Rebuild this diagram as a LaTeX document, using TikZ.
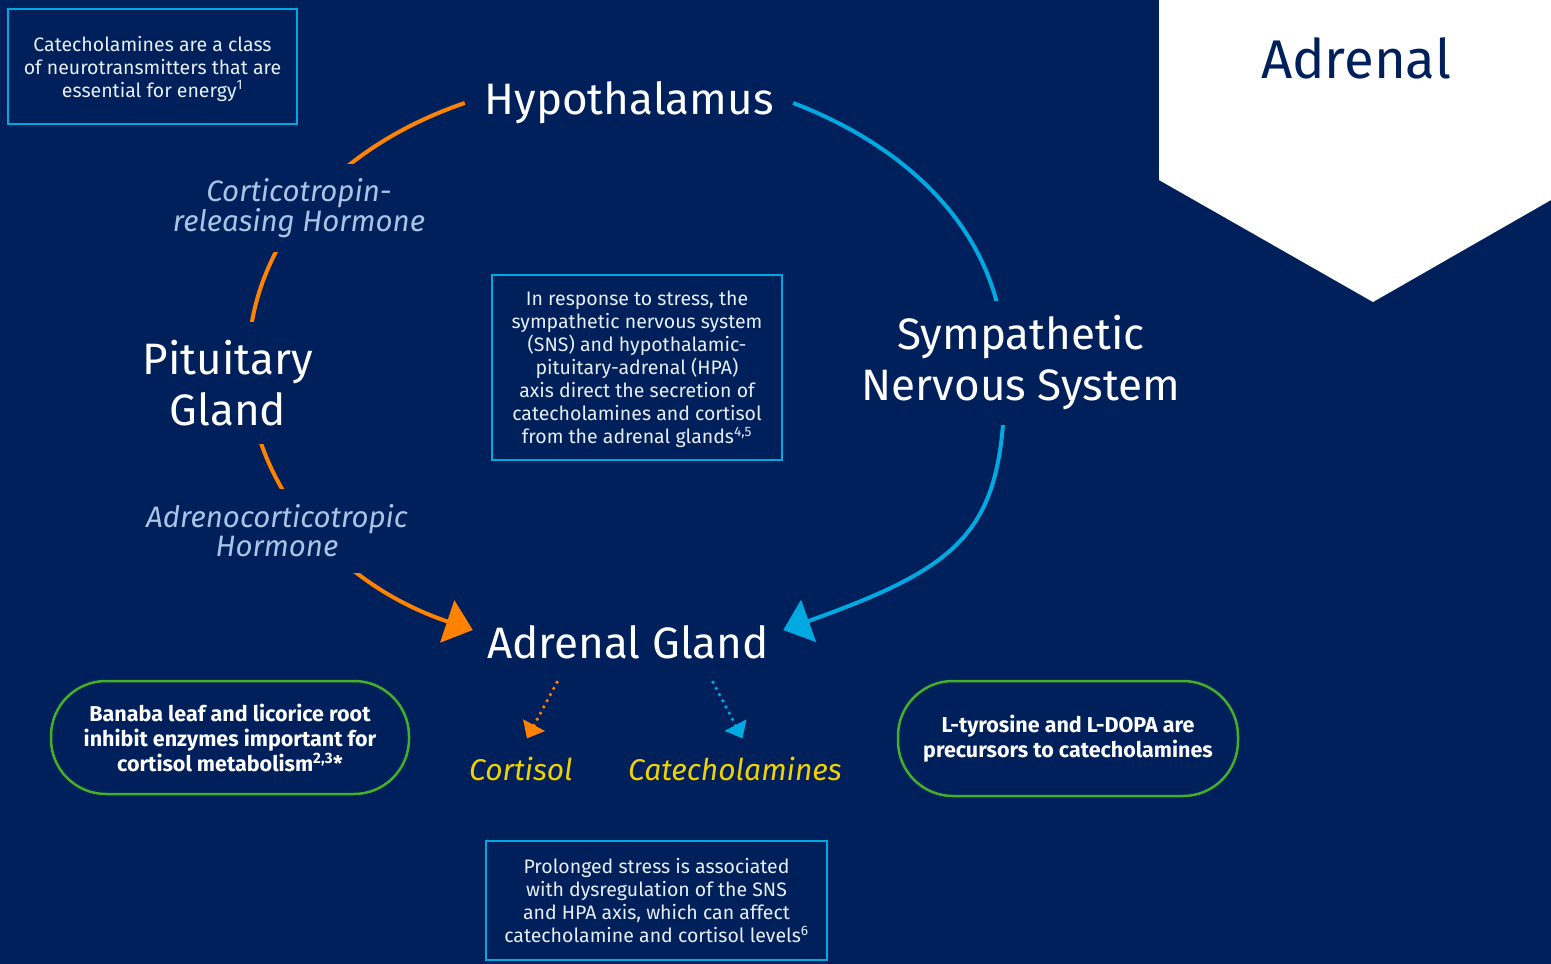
\documentclass[tikz,border=0pt]{standalone}
\usepackage{fontspec}
\setmainfont{Fira Sans}
\usetikzlibrary{arrows.meta,positioning}
\pgfdeclarelayer{background}
\pgfsetlayers{background,main}
\definecolor{navy}{RGB}{0,32,91}
\definecolor{skyline}{RGB}{0,169,224}
\definecolor{amber}{RGB}{255,130,0}
\definecolor{leafgreen}{RGB}{68,176,42}
\definecolor{gold}{RGB}{240,210,0}
\definecolor{paleblue}{RGB}{170,196,230}
\definecolor{softwhite}{RGB}{232,238,246}

\begin{document}
\begin{tikzpicture}[x=1pt, y=1pt, line cap=round,
    organ/.style={text=white, font=\fontsize{44}{51}\selectfont, align=center, inner sep=0pt},
    hormone/.style={text=paleblue, font=\itshape\fontsize{29.5}{29}\selectfont, align=center, fill=navy, inner sep=0pt},
    product/.style={text=gold, font=\itshape\fontsize{30}{30}\selectfont, inner sep=0pt},
    infobox/.style={draw=skyline, line width=2.5pt, text=softwhite, font=\fontsize{19.5}{23}\selectfont, align=center, inner sep=0pt,
      text depth=0pt},
    herbbox/.style={draw=leafgreen, line width=2.5pt, rounded corners=55pt, text=white, font=\bfseries\fontsize{21.5}{25}\selectfont, align=center, inner sep=0pt},
    hpa/.style={draw=amber, line width=4pt, -{Triangle[length=27pt,width=44pt]}},
    sympa/.style={draw=skyline, line width=4pt, -{Triangle[length=27pt,width=44pt]}},
    secretion/.style={line width=3.6pt, dash pattern=on 0pt off 7pt, -{Triangle[length=15pt,width=24pt]}}
  ]
  % Background and title tab
  \begin{pgfonlayer}{background}
    \fill[navy] (0,0) rectangle (1551,-964);
    \fill[white] (1159,0) -- (1551,0) -- (1551,-200) -- (1373,-302) -- (1159,-180) -- cycle;
  \end{pgfonlayer}
  \node[anchor=base, text=navy, font=\fontsize{54.5}{60}\selectfont] (title) at (1356,-78) {Adrenal};

  % Organs
  \node[organ, minimum width=328pt, minimum height=44pt] (hypo) at (629,-103) {Hypothalamus};
  \node[organ, fill=navy, minimum height=122pt] (pit) at (228,-383) {Pituitary\\Gland};
  \node[organ, fill=navy, minimum height=124pt] (sns) at (1021,-363) {Sympathetic\\Nervous System};
  \node[organ, minimum width=310pt, minimum height=40pt] (adr) at (628,-642) {Adrenal Gland};

  % Hormones and products
  \node[hormone, minimum height=88pt] (crh) at (299,-208) {Corticotropin-\\releasing Hormone};
  \node[hormone, minimum height=84pt] (acth) at (277,-531) {Adrenocorticotropic\\Hormone};
  \node[product, anchor=base] (cort) at (521,-780) {Cortisol};
  \node[product, anchor=base] (cat) at (735,-780) {Catecholamines};

  % Text boxes
  \node[infobox, minimum width=289pt, minimum height=115pt] (catbox) at (152.5,-66.5)
    {Catecholamines are a class\\of neurotransmitters that are\\essential for energy\textsuperscript{1}};
  \node[infobox, minimum width=290pt, minimum height=185pt] (stressbox) at (637,-367.5)
    {In response to stress, the\\sympathetic nervous system\\(SNS) and hypothalamic-\\pituitary-adrenal (HPA)\\axis direct the secretion of\\catecholamines and cortisol\\from the adrenal glands\textsuperscript{4,5}};
  \node[infobox, minimum width=341pt, minimum height=119pt] (longbox) at (656.5,-900.5)
    {Prolonged stress is associated\\with dysregulation of the SNS\\and HPA axis, which can affect\\catecholamine and cortisol levels\textsuperscript{6}};
  \node[herbbox, minimum width=358pt, minimum height=113pt] (banaba) at (230,-737.5)
    {Banaba leaf and licorice root\\inhibit enzymes important for\\cortisol metabolism\textsuperscript{2,3}*};
  \node[herbbox, minimum width=340pt, minimum height=115pt] (tyrosine) at (1068,-738.5)
    {L-tyrosine and L-DOPA are\\precursors to catecholamines};

  % HPA axis and sympathetic route, behind the labels
  \begin{pgfonlayer}{background}
    \draw[hpa] (hypo.west) .. controls +(-123,-42) and +(0,130) .. ([xshift=20pt,yshift=16pt]pit.center)
      .. controls +(0,-110) and +(-143,48) .. ([yshift=12pt]adr.west);
    \draw[sympa] (hypo.east) .. controls +(105,-40) and +(0,140) .. ([xshift=-16pt,yshift=-4pt]sns.center)
      .. controls +(0,-160) and +(188,67) .. ([yshift=12pt]adr.east);
  \end{pgfonlayer}

  % Secretion
  \draw[secretion, amber] ([xshift=-71pt,yshift=-20pt]adr.south) -- ([xshift=6pt,yshift=18pt]cort.north);
  \draw[secretion, skyline] ([xshift=85pt,yshift=-20pt]adr.south) -- ([xshift=7.5pt,yshift=18pt]cat.north);
\end{tikzpicture}
\end{document}
